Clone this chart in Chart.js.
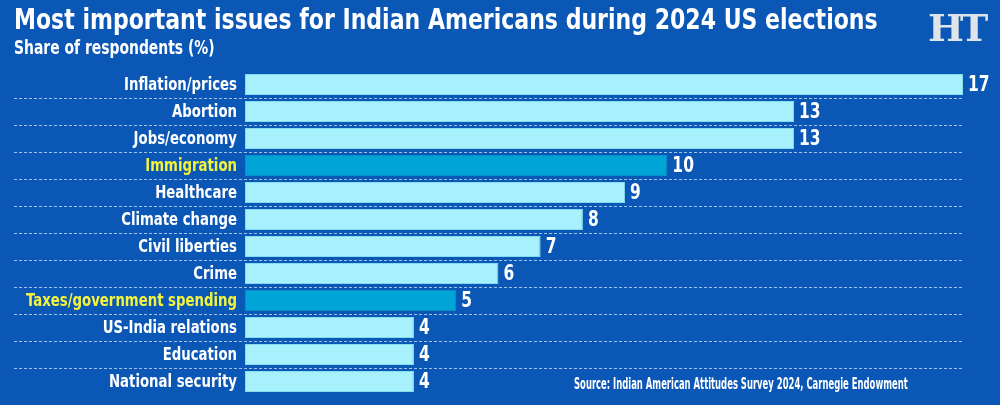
<!DOCTYPE html>
<html>
<head>
<meta charset="utf-8">
<script src="https://cdn.jsdelivr.net/npm/chart.js@4"></script>
<style>
  html, body { margin: 0; padding: 0; background: #0b57b6; }
  #wrap { position: relative; width: 1000px; height: 405px; overflow: hidden; }
  .txt { position: absolute; color: #fff; font-family: "DejaVu Sans Condensed", "DejaVu Sans", sans-serif; font-weight: bold; white-space: nowrap; transform-origin: 0 0; }
  #title { left: 14px; top: 2px; font-size: 29px; }
  #sub { left: 14px; top: 36px; font-size: 19px; }
  #logo { left: 928px; top: 5px; font-family: "DejaVu Serif", serif; font-size: 38px; color: #dfe3ea; letter-spacing: -4px; }
  #source { left: 574px; top: 375px; font-size: 15px; }
</style>
</head>
<body>
<div id="wrap">
  <canvas id="chart" width="1000" height="405"></canvas>
  <div class="txt" id="title" data-w="864">Most important issues for Indian Americans during 2024 US elections</div>
  <div class="txt" id="sub" data-w="201">Share of respondents (%)</div>
  <div class="txt" id="logo">HT</div>
  <div class="txt" id="source" data-w="334">Source: Indian American Attitudes Survey 2024, Carnegie Endowment</div>
</div>
<script>
const issues = [
  "Inflation/prices",
  "Abortion",
  "Jobs/economy",
  "Immigration",
  "Healthcare",
  "Climate change",
  "Civil liberties",
  "Crime",
  "Taxes/government spending",
  "US-India relations",
  "Education",
  "National security",
];
const shares = [17, 13, 13, 10, 9, 8, 7, 6, 5, 4, 4, 4];
const highlighted = ["Immigration", "Taxes/government spending"];

const fontFamily = '"DejaVu Sans Condensed", "DejaVu Sans", sans-serif';
const squeeze = 0.82; // the original type is a narrow condensed face

const isHi = (i) => highlighted.includes(issues[i]);

// squeeze the html headings to the widths they take in the original
document.querySelectorAll(".txt[data-w]").forEach((el) => {
  el.style.transform = "scaleX(" + el.dataset.w / el.offsetWidth + ")";
});

function narrowText(ctx, text, x, y, align) {
  const w = ctx.measureText(text).width * squeeze;
  const left = align === "right" ? x - w : x;
  ctx.save();
  ctx.translate(left, y);
  ctx.scale(squeeze, 1);
  ctx.textAlign = "left";
  ctx.fillText(text, 0, 0);
  ctx.restore();
}

// dashed separators between rows, running under the labels too
const rowLines = {
  id: "rowLines",
  beforeDatasetsDraw(chart) {
    const ctx = chart.ctx;
    const y = chart.scales.y;
    ctx.save();
    ctx.strokeStyle = "rgba(175,205,240,0.9)";
    ctx.lineWidth = 1;
    ctx.setLineDash([3, 2]);
    for (let i = 0; i < issues.length - 1; i++) {
      const py = Math.round((y.getPixelForValue(i) + y.getPixelForValue(i + 1)) / 2) + 0.5;
      ctx.beginPath();
      ctx.moveTo(14, py);
      ctx.lineTo(964, py);
      ctx.stroke();
    }
    ctx.restore();
  },
};

const labels = {
  id: "labels",
  afterDatasetsDraw(chart) {
    const ctx = chart.ctx;
    const y = chart.scales.y;
    const meta = chart.getDatasetMeta(0);
    ctx.save();
    ctx.textBaseline = "middle";
    ctx.font = "bold 18px " + fontFamily;
    issues.forEach((name, i) => {
      ctx.fillStyle = isHi(i) ? "#f4f43c" : "#ffffff";
      narrowText(ctx, name, y.right - 8, y.getPixelForValue(i) + 1, "right");
    });
    ctx.fillStyle = "#ffffff";
    ctx.font = "bold 21px " + fontFamily;
    meta.data.forEach((bar, i) => {
      narrowText(ctx, String(shares[i]), bar.x + 5, bar.y + 1, "left");
    });
    ctx.restore();
  },
};

new Chart(document.getElementById("chart"), {
  type: "bar",
  data: {
    labels: issues,
    datasets: [
      {
        data: shares,
        backgroundColor: issues.map((_, i) => (isHi(i) ? "#00a4d6" : "#a6f1fc")),
        borderColor: issues.map((_, i) => (isHi(i) ? "#0a8fc4" : "#86dcef")),
        borderWidth: 1,
        borderSkipped: false,
        barPercentage: 0.78,
        categoryPercentage: 1,
      },
    ],
  },
  options: {
    indexAxis: "y",
    responsive: false,
    animation: false,
    layout: { padding: { top: 71, bottom: 10, right: 37, left: 0 } },
    scales: {
      x: {
        display: false,
        min: 0,
        max: 17,
      },
      y: {
        afterFit(scale) {
          scale.width = 245;
        },
        grid: { display: false },
        border: { display: false },
        ticks: { display: false },
      },
    },
    plugins: {
      legend: { display: false },
      tooltip: { enabled: false },
    },
  },
  plugins: [rowLines, labels],
});
</script>
</body>
</html>
